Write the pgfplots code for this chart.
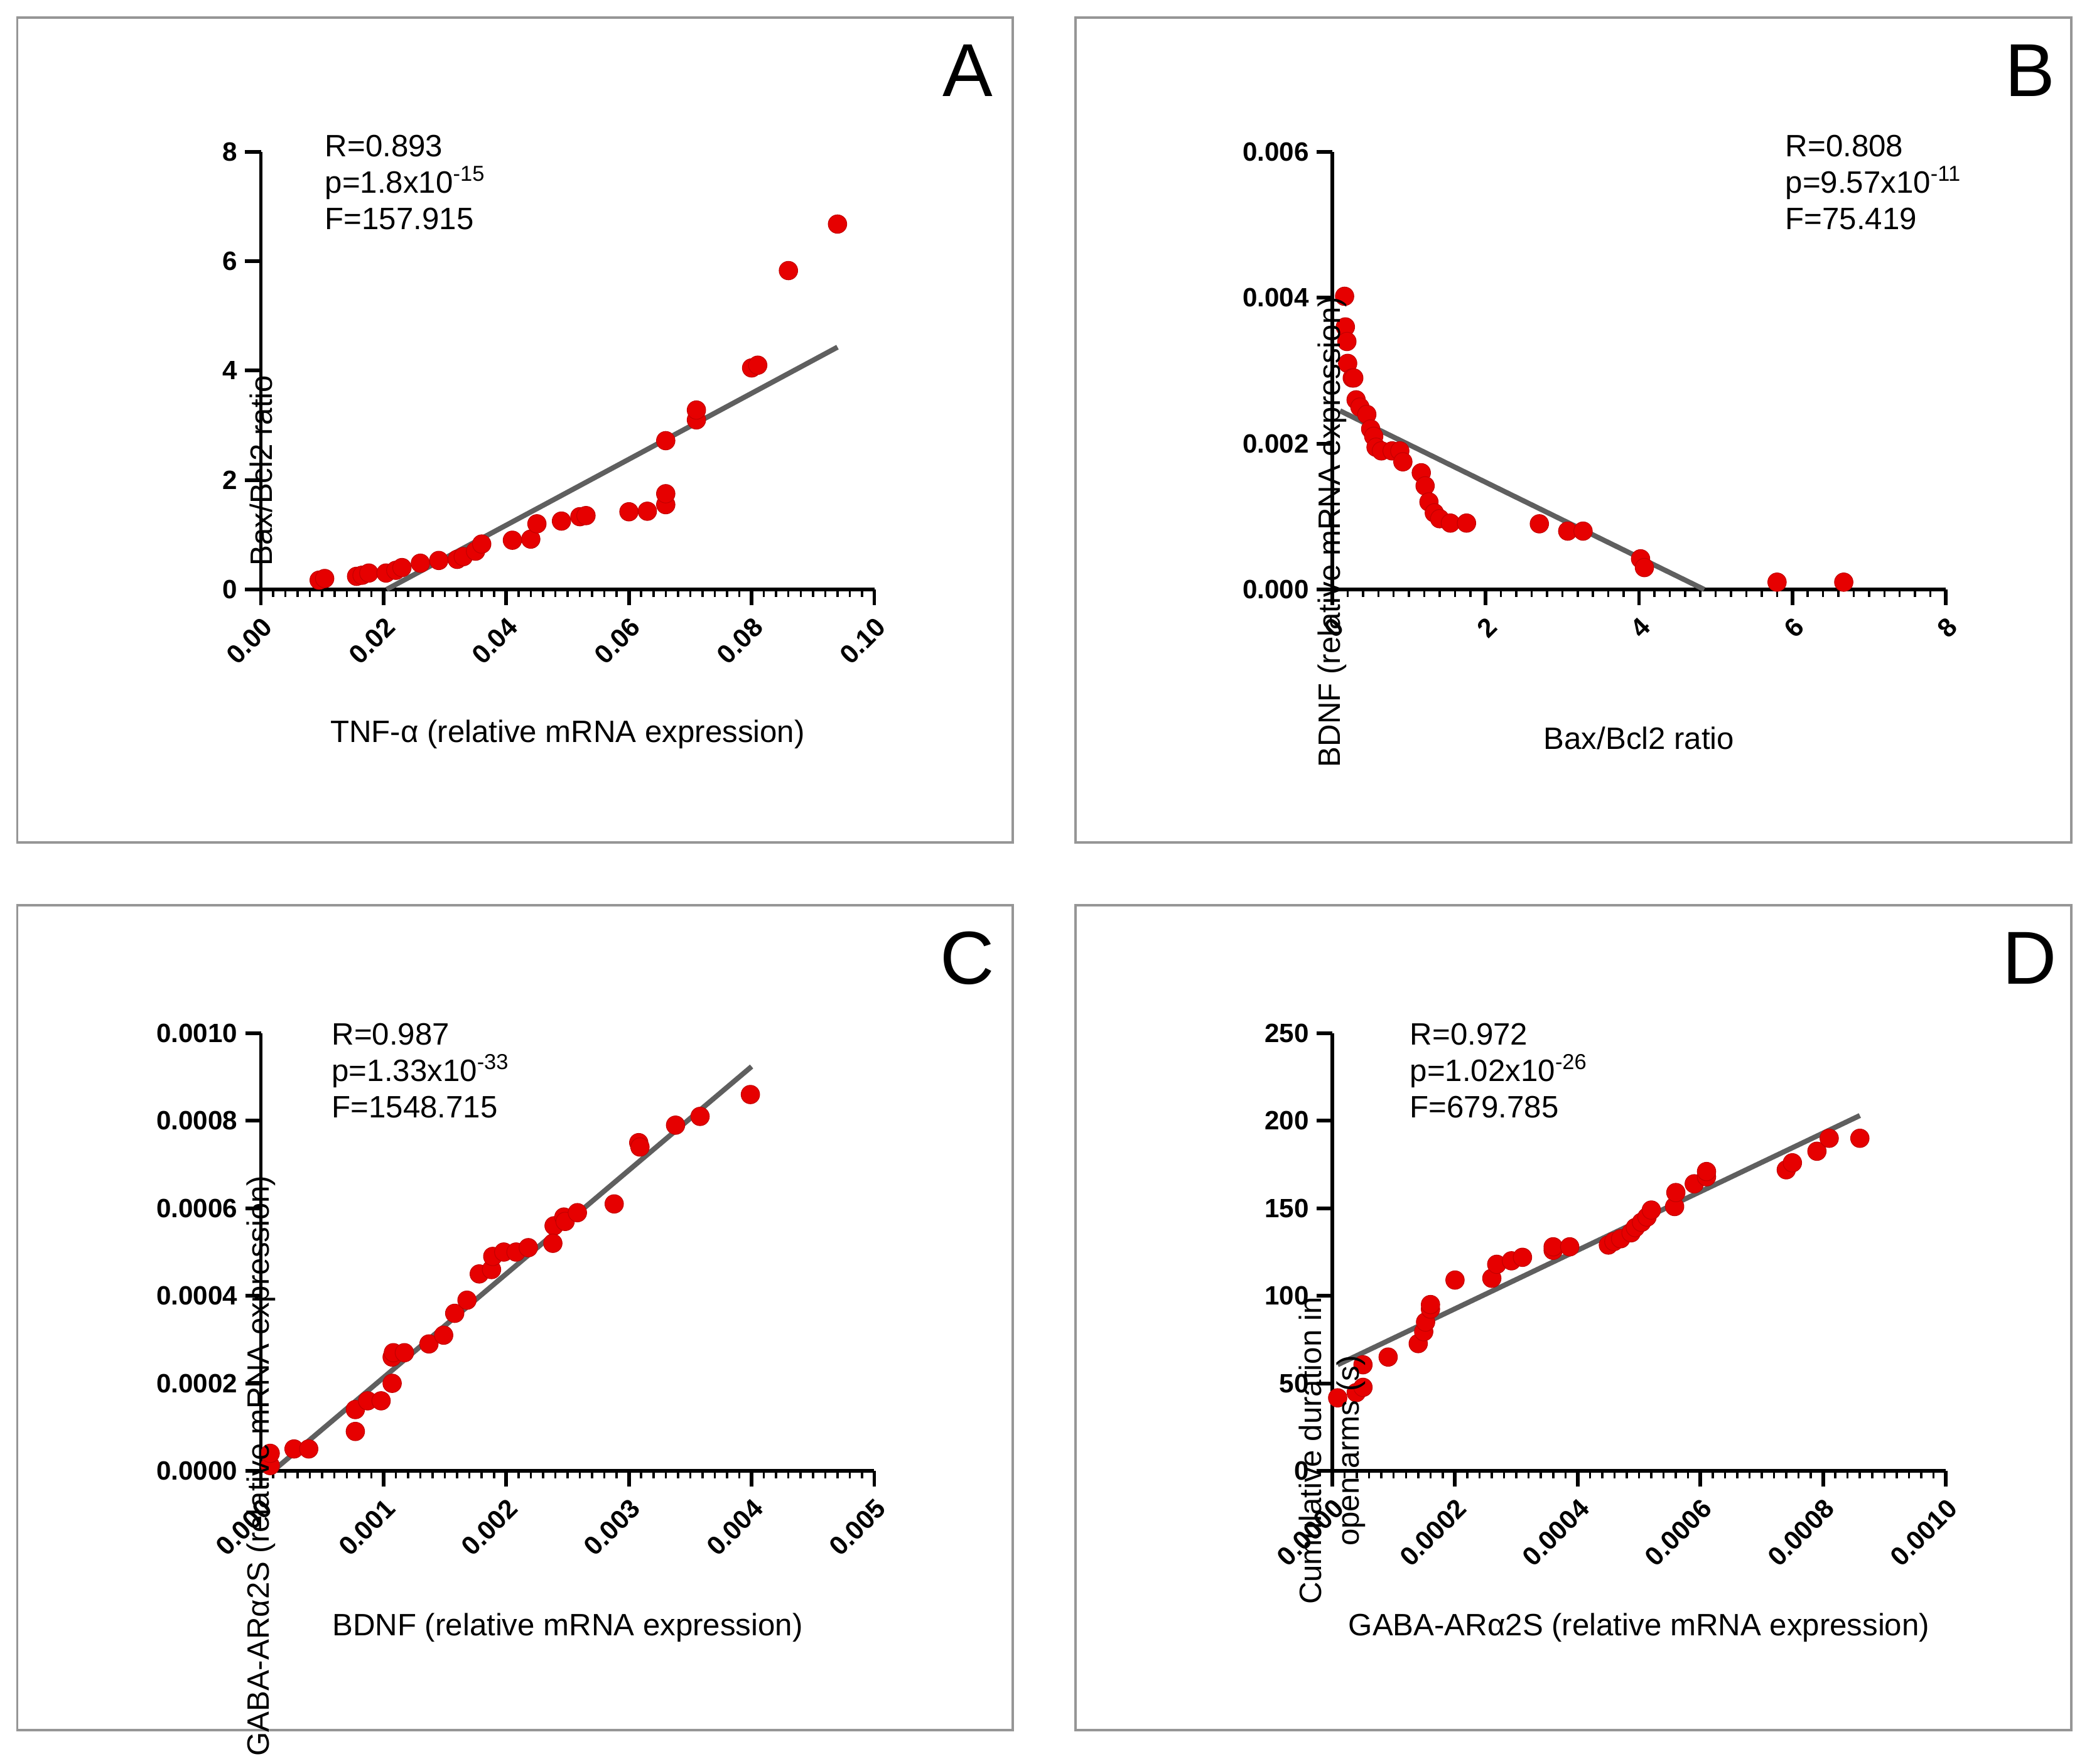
\documentclass[border=0pt]{standalone}
\usepackage{pgfplots}
\pgfplotsset{compat=1.18}
\usepackage{fontspec}
\setmainfont{Liberation Sans}
\definecolor{pt}{RGB}{230,0,0}
\definecolor{fit}{RGB}{95,95,95}
\definecolor{frm}{RGB}{150,150,150}
\tikzset{ann/.style={anchor=north west, align=left, font=\fontsize{14}{16.5}\selectfont, inner sep=0pt}}
\pgfplotsset{
 panel/.style={scale only axis, width=9.77cm, height=6.97cm, anchor=origin,
  axis lines*=left, xmin=0, ymin=0, clip=false, scaled ticks=false,
  axis line style={line width=1.7pt}, tick style={line width=1.7pt, black},
  major tick length=0.25cm, minor tick length=0.12cm, tick align=outside,
  minor x tick num=9, xtick pos=bottom, ytick pos=left,
  every minor tick/.style={line width=1pt, tick align=center},
  ticklabel style={font=\fontsize{12}{14}\selectfont\bfseries},
  x tick label style={rotate=45, anchor=north east},
  label style={font=\fontsize{14}{17}\selectfont},
  /pgf/number format/assume math mode=true},
 pts/.style={only marks, mark=*, mark size=4.2pt, color=pt, mark options={fill=pt, draw=pt!85!black, line width=0.3pt}},
 fitl/.style={no marks, line width=2.3pt, color=fit},
}
\begin{document}
\begin{tikzpicture}
\path (0,0) rectangle (33.24,27.88);
\draw[frm, line width=1pt] (0.276,27.60) rectangle (16.13,14.46);
\draw[frm, line width=1pt] (17.13,27.60) rectangle (32.99,14.46);
\draw[frm, line width=1pt] (0.276,13.46) rectangle (16.13,0.32);
\draw[frm, line width=1pt] (17.13,13.46) rectangle (32.99,0.32);
\node[font=\fontsize{34}{40}\selectfont] at (15.41,26.76) {A};
\node[font=\fontsize{34}{40}\selectfont] at (32.33,26.76) {B};
\node[font=\fontsize{34}{40}\selectfont] at (15.41,12.62) {C};
\node[font=\fontsize{34}{40}\selectfont] at (32.33,12.62) {D};

% A
\begin{axis}[panel, at={(4.155cm,18.49cm)}, xmax=0.1, ymax=8,
  xtick={0,0.02,0.04,0.06,0.08,0.1}, xticklabels={0.00,0.02,0.04,0.06,0.08,0.10},
  ytick={0,2,4,6,8}, yticklabels={0,2,4,6,8},
  xlabel={TNF-α (relative mRNA expression)}, ylabel={Bax/Bcl2 ratio},
  xlabel style={at={(axis description cs:0.5,0)}, anchor=center, yshift=-2.31cm},
  ylabel style={at={(axis description cs:0,0.54)}, anchor=center, xshift=-1.87cm}]
\addplot[fitl] coordinates {(0.0205,0) (0.094,4.43)};
\addplot[pts] coordinates {(0.0095,0.17)(0.0104,0.2)(0.0156,0.24)(0.0165,0.26)(0.0176,0.3)(0.0204,0.3)(0.022,0.35)(0.023,0.4)(0.026,0.48)(0.029,0.53)(0.032,0.55)(0.033,0.6)(0.035,0.7)(0.036,0.83)(0.041,0.9)(0.044,0.92)(0.045,1.2)(0.049,1.25)(0.052,1.33)(0.053,1.35)(0.06,1.42)(0.063,1.43)(0.066,1.55)(0.066,1.75)(0.066,2.72)(0.071,3.1)(0.071,3.28)(0.080,4.05)(0.081,4.1)(0.086,5.83)(0.094,6.68)};
\node[ann] at (axis description cs:0.104,1.04) {R=0.893\\p=1.8x10\textsuperscript{-15}\\F=157.915};
\end{axis}

% B
\begin{axis}[panel, at={(21.22cm,18.49cm)}, xmax=8, ymax=0.006,
  xtick={0,2,4,6,8}, xticklabels={0,2,4,6,8},
  ytick={0,0.002,0.004,0.006}, yticklabels={0.000,0.002,0.004,0.006},
  xlabel={Bax/Bcl2 ratio}, ylabel={BDNF (relative mRNA expression)},
  xlabel style={at={(axis description cs:0.5,0)}, anchor=center, yshift=-2.37cm},
  ylabel style={at={(axis description cs:0,0.5)}, anchor=center, xshift=-2.57cm}]
\addplot[fitl] coordinates {(0.1,0.00245) (4.85,0)};
\addplot[pts] coordinates {(0.16,0.00402)(0.17,0.0036)(0.19,0.0034)(0.2,0.0031)(0.26,0.0029)(0.28,0.0029)(0.31,0.0026)(0.36,0.0025)(0.45,0.0024)(0.5,0.0022)(0.54,0.0021)(0.57,0.00195)(0.64,0.0019)(0.78,0.0019)(0.88,0.0019)(0.92,0.00175)(1.16,0.0016)(1.21,0.00142)(1.26,0.0012)(1.33,0.00105)(1.4,0.00097)(1.54,0.00091)(1.75,0.00091)(2.7,0.0009)(3.07,0.0008)(3.27,0.0008)(4.02,0.00042)(4.07,0.0003)(5.8,0.0001)(6.67,0.0001)};
\node[ann] at (axis description cs:0.738,1.04) {R=0.808\\p=9.57x10\textsuperscript{-11}\\F=75.419};
\end{axis}

% C
\begin{axis}[panel, at={(4.155cm,4.45cm)}, xmax=0.005, ymax=0.001,
  xtick={0,0.001,0.002,0.003,0.004,0.005}, xticklabels={0.000,0.001,0.002,0.003,0.004,0.005},
  ytick={0,0.0002,0.0004,0.0006,0.0008,0.001}, yticklabels={0.0000,0.0002,0.0004,0.0006,0.0008,0.0010},
  xlabel={BDNF (relative mRNA expression)}, ylabel={GABA-ARα2S (relative mRNA expression)},
  xlabel style={at={(axis description cs:0.5,0)}, anchor=center, yshift=-2.5cm},
  ylabel style={at={(axis description cs:0,0.41)}, anchor=center, xshift=-2.78cm}]
\addplot[fitl] coordinates {(0.0001,0) (0.004,0.000924)};
\addplot[pts] coordinates {(0.000076,0.000012)(0.000076,0.00004)(0.00027,0.00005)(0.00039,0.00005)(0.00077,0.00009)(0.00077,0.00014)(0.00087,0.00016)(0.00098,0.00016)(0.00107,0.0002)(0.00107,0.00026)(0.00108,0.00027)(0.00117,0.00027)(0.00137,0.00029)(0.00149,0.00031)(0.00158,0.00036)(0.00168,0.00039)(0.00178,0.00045)(0.00188,0.00046)(0.00189,0.00049)(0.00198,0.0005)(0.00208,0.0005)(0.00218,0.00051)(0.00239,0.00056)(0.00238,0.00052)(0.00247,0.00058)(0.00248,0.00057)(0.00258,0.00059)(0.00288,0.00061)(0.00308,0.00075)(0.00309,0.00074)(0.00338,0.00079)(0.00358,0.00081)(0.00399,0.00086)};
\node[ann] at (axis description cs:0.115,1.024) {R=0.987\\p=1.33x10\textsuperscript{-33}\\F=1548.715};
\end{axis}

% D
\begin{axis}[panel, at={(21.22cm,4.45cm)}, xmax=0.001, ymax=250,
  xtick={0,0.0002,0.0004,0.0006,0.0008,0.001}, xticklabels={0.0000,0.0002,0.0004,0.0006,0.0008,0.0010},
  ytick={0,50,100,150,200,250}, yticklabels={0,50,100,150,200,250},
  xlabel={GABA-ARα2S (relative mRNA expression)}, ylabel={Cumulative duration in\\open arms (s)},
  xlabel style={at={(axis description cs:0.5,0)}, anchor=center, yshift=-2.5cm},
  ylabel style={at={(axis description cs:0,0.39)}, anchor=center, xshift=-2.4cm, align=center}]
\addplot[fitl] coordinates {(0.0000087,60.6) (0.00086,203)};
\addplot[pts] coordinates {(0.0000087,41.7)(0.000039,44.7)(0.00005,47.7)(0.00005,60.6)(0.000091,65)(0.00014,72.7)(0.000149,79.5)(0.000152,85)(0.00016,92.4)(0.00016,95)(0.0002,109)(0.00026,110)(0.000268,118)(0.000292,120)(0.00031,122)(0.00036,126)(0.00036,128)(0.000387,128)(0.00045,129)(0.000459,131)(0.00047,132.6)(0.000487,136)(0.000494,139)(0.000504,142)(0.000513,145)(0.00052,149)(0.000558,151)(0.00056,159)(0.00059,164)(0.00061,168)(0.00061,171)(0.00074,172)(0.00075,176)(0.00079,182.6)(0.00081,190)(0.00086,190)};
\node[ann] at (axis description cs:0.126,1.024) {R=0.972\\p=1.02x10\textsuperscript{-26}\\F=679.785};
\end{axis}
\end{tikzpicture}
\end{document}
